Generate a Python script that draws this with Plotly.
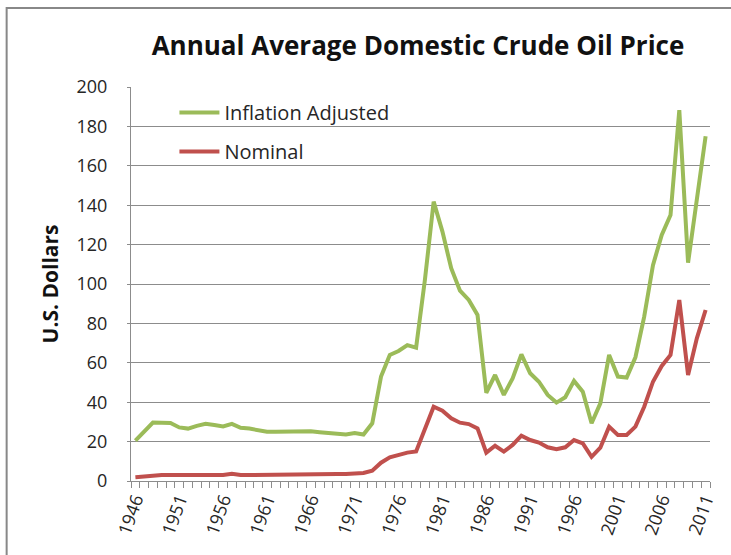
import plotly.graph_objects as go

years = list(range(1946, 2012))

inflation_adjusted = [
    20.5, 24.8, 29.7, 29.6, 29.4, 27.2, 26.6, 28.0, 29.0, 28.4,
    27.7, 29.0, 27.0, 26.6, 25.6, 25.0, 25.0, 25.0, 25.3, 25.5,
    25.3, 24.8, 24.3, 24.1, 23.6, 24.3, 23.6, 29.3, 53.0, 64.0,
    66.0, 69.0, 67.7, 102.0, 141.8, 126.6, 108.0, 96.6, 91.9, 84.3,
    44.8, 53.8, 43.7, 52.1, 64.3, 54.7, 50.4, 43.7, 39.8, 42.5,
    50.8, 45.3, 29.3, 39.4, 64.0, 53.0, 52.5, 62.8, 83.4, 109.6,
    124.9, 135.0, 188.3, 110.8, 142.6, 175.0,
]

nominal = [
    1.9, 2.4, 3.0, 3.0, 3.0, 3.0, 3.0, 3.0, 3.0, 3.0,
    3.0, 3.7, 3.0, 3.0, 3.0, 3.0, 3.0, 3.0, 3.0, 3.0,
    3.1, 3.3, 3.4, 3.5, 3.6, 4.1, 4.1, 5.2, 9.3, 12.0,
    13.4, 14.4, 15.0, 25.9, 37.7, 35.7, 31.8, 29.6, 28.9, 26.7,
    14.4, 17.9, 14.9, 18.3, 23.0, 20.8, 19.5, 17.1, 16.1, 17.1,
    20.8, 19.1, 12.3, 16.9, 27.6, 23.4, 23.4, 27.6, 37.7, 50.4,
    58.4, 64.0, 91.9, 53.8, 72.4, 86.8,
]

tick_years = list(range(1946, 2012, 5))
y_ticks = list(range(0, 201, 20))

FONT = "Open Sans"
GRID = "#8c8c8c"
TXT = "#262626"

fig = go.Figure()
fig.add_trace(go.Scatter(
    x=years, y=inflation_adjusted, mode="lines", name="Inflation Adjusted",
    line=dict(color="#9BBB59", width=4), legendgroup="a",
))
fig.add_trace(go.Scatter(
    x=years, y=nominal, mode="lines", name="Nominal",
    line=dict(color="#C0504D", width=4), legendgroup="b",
))

fig.update_layout(
    width=731, height=555,
    margin=dict(l=131, r=18, t=87, b=74),
    paper_bgcolor="white", plot_bgcolor="white",
    font=dict(family=FONT, color=TXT),
    title=dict(
        text="<b>Annual Average Domestic Crude Oil Price</b>",
        x=418 / 731, xanchor="center", y=1 - 46 / 555, yanchor="middle",
        font=dict(family=FONT, size=26, color="#111111"),
    ),
    showlegend=True,
    legend=dict(
        x=0.075, y=0.985, xanchor="left", yanchor="top",
        bgcolor="rgba(0,0,0,0)", font=dict(family=FONT, size=20, color=TXT),
        tracegroupgap=10, itemwidth=40,
    ),
    xaxis=dict(
        range=[1945.5, 2011.5],
        tickmode="array", tickvals=tick_years, ticktext=[str(y) for y in tick_years],
        tickangle=-70, ticks="", showgrid=False,
        showline=True, linecolor=GRID, linewidth=1,
        tickfont=dict(family=FONT, size=18, color=TXT),
        minor=dict(ticks="outside", tick0=1945.5, dtick=1, ticklen=6,
                   tickcolor=GRID, tickwidth=1, showgrid=False),
        zeroline=False,
    ),
    yaxis=dict(
        range=[0, 200], tickmode="array", tickvals=y_ticks,
        showgrid=True, gridcolor=GRID, gridwidth=1,
        showline=True, linecolor=GRID, linewidth=1,
        ticks="outside", ticklen=3, tickcolor=GRID,
        ticklabelstandoff=16,
        tickfont=dict(family=FONT, size=18, color=TXT),
        title=dict(text="<b>U.S. Dollars</b>", standoff=12,
                   font=dict(family=FONT, size=21, color="#111111")),
        zeroline=False,
    ),
)

# outer chart-area border (cropped at right and bottom in the original)
fig.add_shape(type="rect", xref="paper", yref="paper",
              x0=(6 - 131) / 582, x1=3, y0=-2, y1=(481 - 8) / 394,
              line=dict(color="#888888", width=2), layer="below")

fig.write_html(
    "out.html",
    config={"displayModeBar": False},
    post_script="document.body.style.margin='0';document.body.style.overflow='hidden';",
)
